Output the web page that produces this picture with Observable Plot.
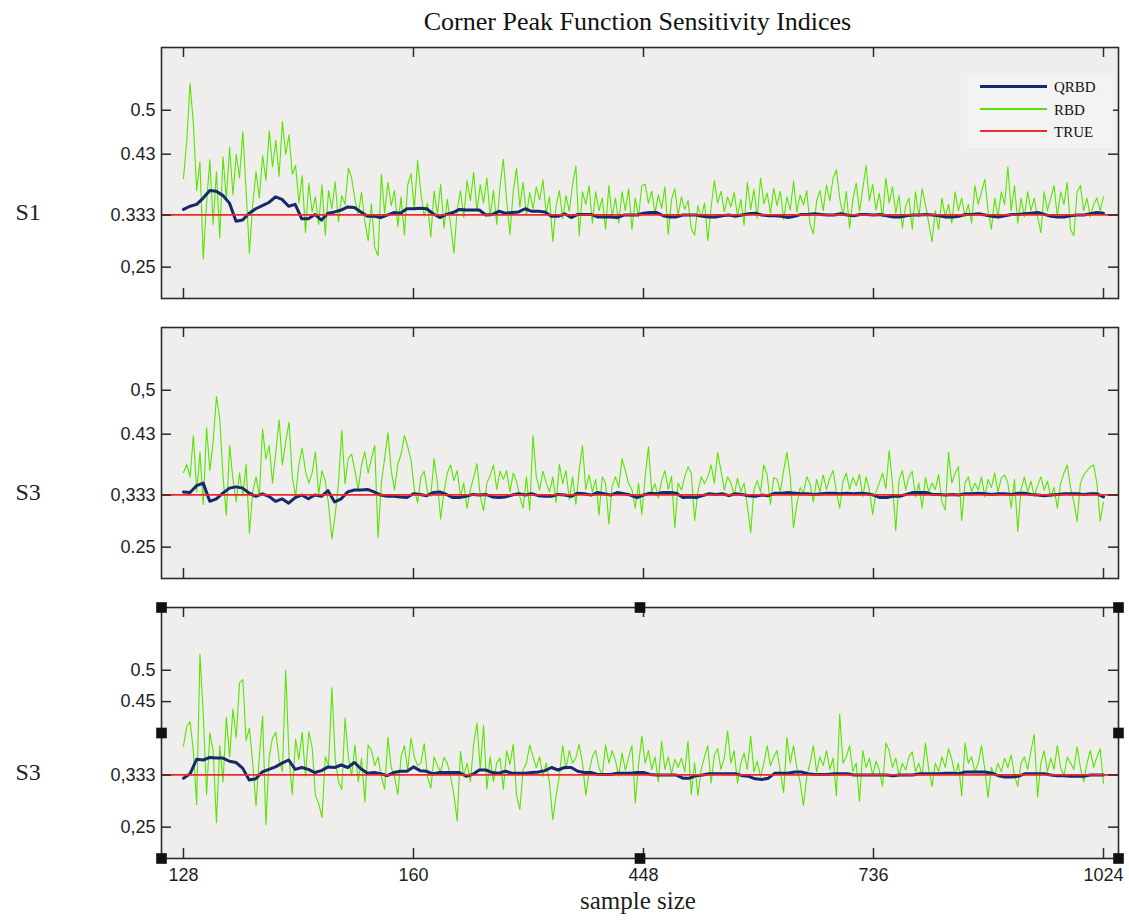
<!DOCTYPE html>
<html>
<head>
<meta charset="utf-8">
<script src="https://cdn.jsdelivr.net/npm/d3@7"></script>
<script src="https://cdn.jsdelivr.net/npm/@observablehq/plot@0.6"></script>
<style>
  html, body { margin: 0; padding: 0; background: #fff; overflow: hidden; }
  #wrap { position: relative; width: 1129px; height: 921px; }
  #title { height: 38px; padding-top: 2px; line-height: 40px; padding-left: 157px; padding-right: 11px;
           text-align: center; font-family: "Liberation Serif", serif; font-size: 26px; color: #111; }
  .panel svg { display: block; }
  #legend { position: absolute; left: 967px; top: 75px; width: 146px; height: 73px; background: #f4f3f3; }
  #legend .sw { position: absolute; left: 13px; width: 67px; }
  #legend .lb { position: absolute; left: 87px; font-family: "Liberation Serif", serif; font-size: 15px; color: #111; line-height: 16px; }
</style>
</head>
<body>
<div id="wrap">
  <div id="title"></div>
  <div class="panel" id="p1"></div>
  <div class="panel" id="p2"></div>
  <div class="panel" id="p3"></div>
  <div id="legend"></div>
</div>
<script>
// ---------- data ----------
const titleText = "Corner Peak Function Sensitivity Indices";
const xAxisLabel = "sample size";
const seriesNames = ["QRBD", "RBD", "TRUE"];
const rowLabels = ["S1", "S3", "S3"];
const trueValue = 1 / 3;
const sampleStart = 128;
const sampleEnd = 1024;
const xTickValues = [128, 352, 576, 800, 1024];
const xTickLabels = ["128", "160", "448", "736", "1024"];
const yTicks1 = [0.5, 0.43, 0.333, 0.25];
const yLabels1 = ["0.5", "0.43", "0.333", "0,25"];
const yTicks2 = [0.5, 0.43, 0.333, 0.25];
const yLabels2 = ["0,5", "0.43", "0,333", "0.25"];
const yTicks3 = [0.5, 0.45, 0.333, 0.25];
const yLabels3 = ["0.5", "0.45", "0,333", "0,25"];

// RBD estimates (green)
const rbd1 = [
0.391,0.452,0.543,0.478,0.372,0.418,0.263,0.352,0.421,0.318,0.402,0.297,0.426,0.358,0.441,0.365,0.43,0.392,0.466,0.371,
0.272,0.35,0.402,0.36,0.428,0.388,0.467,0.41,0.452,0.395,0.482,0.43,0.461,0.398,0.412,0.352,0.396,0.305,0.384,0.338,
0.362,0.318,0.381,0.301,0.372,0.343,0.386,0.322,0.364,0.35,0.408,0.392,0.357,0.334,0.369,0.322,0.292,0.351,0.281,0.268,
0.398,0.336,0.385,0.348,0.372,0.315,0.362,0.301,0.381,0.399,0.342,0.42,0.368,0.331,0.352,0.298,0.371,0.334,0.382,0.312,
0.358,0.318,0.272,0.341,0.372,0.329,0.388,0.356,0.401,0.339,0.381,0.352,0.392,0.331,0.372,0.318,0.379,0.422,0.356,0.302,
0.371,0.408,0.346,0.385,0.332,0.369,0.343,0.378,0.357,0.389,0.336,0.362,0.291,0.348,0.372,0.327,0.364,0.339,0.382,0.411,
0.30,0.37,0.35,0.38,0.32,0.37,0.34,0.36,0.31,0.38,0.33,0.36,0.32,0.37,0.34,0.375,0.31,0.36,0.33,0.38,
0.382,0.352,0.371,0.336,0.365,0.344,0.378,0.302,0.358,0.375,0.332,0.362,0.342,0.356,0.311,0.301,0.348,0.329,0.352,0.292,
0.345,0.388,0.352,0.371,0.338,0.362,0.346,0.369,0.331,0.358,0.317,0.385,0.342,0.374,0.328,0.392,0.351,0.368,0.336,0.376,
0.348,0.371,0.326,0.362,0.341,0.387,0.338,0.365,0.349,0.372,0.318,0.303,0.356,0.372,0.34,0.381,0.356,0.392,0.405,0.36,
0.332,0.371,0.312,0.358,0.384,0.339,0.375,0.412,0.356,0.382,0.341,0.368,0.329,0.392,0.352,0.378,0.336,0.364,0.312,0.348,
0.36,0.31,0.37,0.33,0.375,0.35,0.32,0.29,0.34,0.31,0.36,0.33,0.35,0.32,0.37,0.34,0.36,0.33,0.35,0.32,
0.38,0.35,0.37,0.39,0.34,0.31,0.36,0.33,0.37,0.35,0.41,0.34,0.38,0.32,0.36,0.33,0.37,0.34,0.36,0.33,
0.305,0.37,0.34,0.36,0.38,0.33,0.37,0.35,0.385,0.31,0.30,0.37,0.38,0.34,0.36,0.33,0.35,0.36,0.34,0.362
];
const rbd2 = [
0.369,0.382,0.362,0.428,0.338,0.401,0.318,0.44,0.372,0.418,0.49,0.455,0.362,0.301,0.412,0.358,0.322,0.368,0.331,0.382,
0.272,0.338,0.362,0.332,0.438,0.39,0.412,0.352,0.401,0.453,0.381,0.418,0.449,0.362,0.331,0.382,0.408,0.371,0.352,0.368,
0.402,0.334,0.372,0.356,0.318,0.263,0.301,0.352,0.436,0.351,0.392,0.398,0.371,0.342,0.381,0.402,0.368,0.392,0.412,0.265,
0.352,0.391,0.432,0.372,0.341,0.382,0.398,0.428,0.41,0.389,0.342,0.321,0.362,0.371,0.338,0.331,0.391,0.352,0.295,0.338,
0.368,0.381,0.356,0.372,0.331,0.352,0.312,0.342,0.361,0.383,0.332,0.308,0.352,0.364,0.381,0.342,0.371,0.358,0.372,0.338,
0.368,0.355,0.33,0.312,0.362,0.309,0.428,0.362,0.341,0.371,0.352,0.338,0.362,0.321,0.382,0.351,0.372,0.325,0.362,0.318,
0.372,0.412,0.342,0.365,0.338,0.358,0.301,0.362,0.352,0.287,0.348,0.362,0.345,0.391,0.372,0.351,0.342,0.312,0.352,0.302,
0.362,0.41,0.338,0.351,0.328,0.356,0.372,0.342,0.363,0.281,0.352,0.341,0.362,0.378,0.368,0.292,0.338,0.362,0.351,0.362,
0.381,0.352,0.401,0.372,0.341,0.362,0.352,0.332,0.36,0.338,0.352,0.315,0.273,0.342,0.356,0.338,0.381,0.365,0.318,0.361,
0.358,0.338,0.372,0.401,0.362,0.281,0.318,0.345,0.336,0.362,0.351,0.322,0.358,0.338,0.365,0.342,0.36,0.372,0.338,0.312,
0.355,0.368,0.342,0.361,0.348,0.366,0.33,0.362,0.341,0.302,0.338,0.352,0.368,0.343,0.404,0.352,0.276,0.358,0.372,0.341,
0.362,0.371,0.33,0.352,0.312,0.361,0.338,0.352,0.342,0.366,0.322,0.309,0.401,0.352,0.368,0.378,0.292,0.352,0.362,0.338,
0.352,0.341,0.362,0.33,0.358,0.345,0.368,0.338,0.36,0.365,0.352,0.312,0.358,0.275,0.342,0.362,0.338,0.355,0.331,0.348,
0.362,0.341,0.355,0.33,0.345,0.312,0.352,0.368,0.381,0.345,0.322,0.291,0.352,0.365,0.372,0.378,0.381,0.352,0.291,0.322
];
const rbd3 = [
0.379,0.411,0.418,0.372,0.286,0.526,0.43,0.302,0.40,0.372,0.257,0.38,0.322,0.425,0.362,0.438,0.392,0.48,0.485,0.388,
0.408,0.352,0.284,0.362,0.427,0.254,0.362,0.392,0.401,0.358,0.338,0.50,0.362,0.302,0.39,0.358,0.401,0.331,0.402,0.378,
0.301,0.288,0.265,0.362,0.348,0.472,0.36,0.322,0.31,0.424,0.362,0.332,0.381,0.322,0.36,0.29,0.381,0.372,0.348,0.362,
0.331,0.31,0.393,0.345,0.33,0.302,0.362,0.38,0.34,0.392,0.362,0.348,0.352,0.383,0.33,0.312,0.362,0.348,0.338,0.361,
0.352,0.331,0.302,0.26,0.371,0.332,0.352,0.322,0.382,0.416,0.342,0.412,0.31,0.362,0.322,0.352,0.36,0.31,0.372,0.35,
0.382,0.301,0.278,0.342,0.352,0.381,0.362,0.345,0.362,0.331,0.352,0.32,0.262,0.30,0.332,0.38,0.342,0.372,0.352,0.361,
0.382,0.352,0.301,0.338,0.362,0.372,0.345,0.332,0.381,0.352,0.372,0.356,0.331,0.368,0.341,0.361,0.38,0.288,0.35,0.395,
0.352,0.372,0.342,0.362,0.322,0.387,0.342,0.362,0.335,0.358,0.345,0.36,0.338,0.387,0.302,0.352,0.30,0.342,0.362,0.38,
0.32,0.365,0.375,0.342,0.36,0.403,0.352,0.372,0.32,0.352,0.368,0.342,0.395,0.338,0.355,0.33,0.352,0.38,0.348,0.362,
0.372,0.338,0.305,0.393,0.352,0.38,0.345,0.322,0.284,0.33,0.352,0.38,0.338,0.362,0.348,0.372,0.342,0.36,0.30,0.43,
0.352,0.362,0.38,0.338,0.352,0.291,0.372,0.345,0.36,0.332,0.355,0.341,0.315,0.384,0.372,0.345,0.36,0.332,0.352,0.341,
0.362,0.37,0.338,0.352,0.332,0.384,0.342,0.315,0.352,0.338,0.362,0.345,0.375,0.358,0.332,0.352,0.30,0.384,0.352,0.362,
0.338,0.352,0.38,0.342,0.297,0.345,0.332,0.352,0.338,0.36,0.345,0.365,0.332,0.315,0.352,0.362,0.342,0.372,0.398,0.298,
0.352,0.372,0.338,0.36,0.342,0.38,0.345,0.331,0.362,0.352,0.342,0.378,0.345,0.322,0.352,0.372,0.345,0.362,0.375,0.32
];

// QRBD estimates (navy)
const qrbd1 = [
0.342,0.347,0.35,0.36,0.372,0.371,0.364,0.352,0.323,0.325,0.336,0.343,0.348,0.353,0.362,0.358,0.347,0.35,0.327,0.327,
0.334,0.325,0.336,0.338,0.341,0.346,0.345,0.338,0.331,0.331,0.329,0.333,0.337,0.336,0.343,0.343,0.344,0.343,0.335,0.329,
0.334,0.337,0.342,0.341,0.341,0.341,0.333,0.334,0.339,0.336,0.337,0.338,0.343,0.339,0.339,0.338,0.331,0.331,0.335,0.329,
0.334,0.334,0.334,0.33,0.33,0.33,0.329,0.333,0.333,0.333,0.336,0.337,0.337,0.332,0.33,0.33,0.333,0.333,0.333,0.331,
0.33,0.33,0.332,0.333,0.331,0.333,0.335,0.336,0.333,0.332,0.332,0.331,0.329,0.331,0.334,0.334,0.335,0.334,0.333,0.333,
0.335,0.333,0.332,0.334,0.334,0.333,0.334,0.332,0.33,0.33,0.332,0.333,0.333,0.334,0.333,0.332,0.33,0.33,0.331,0.334,
0.334,0.335,0.333,0.331,0.33,0.332,0.334,0.334,0.335,0.336,0.337,0.334,0.331,0.33,0.33,0.332,0.333,0.333,0.335,0.337,
0.336
];
const qrbd2 = [
0.338,0.337,0.348,0.352,0.323,0.327,0.336,0.344,0.346,0.344,0.336,0.331,0.335,0.331,0.323,0.327,0.32,0.329,0.333,0.327,
0.333,0.331,0.34,0.322,0.327,0.338,0.341,0.341,0.342,0.338,0.333,0.331,0.331,0.33,0.329,0.335,0.334,0.332,0.337,0.338,
0.334,0.329,0.329,0.331,0.334,0.333,0.334,0.33,0.329,0.33,0.333,0.335,0.333,0.335,0.332,0.331,0.331,0.334,0.333,0.331,
0.336,0.335,0.333,0.337,0.335,0.333,0.337,0.335,0.333,0.329,0.333,0.336,0.335,0.337,0.337,0.336,0.329,0.33,0.329,0.332,
0.335,0.334,0.335,0.332,0.335,0.334,0.332,0.331,0.333,0.332,0.336,0.336,0.337,0.336,0.335,0.335,0.334,0.335,0.336,0.336,
0.335,0.336,0.335,0.336,0.335,0.333,0.329,0.329,0.331,0.331,0.334,0.337,0.337,0.337,0.334,0.334,0.333,0.334,0.333,0.335,
0.335,0.336,0.335,0.334,0.335,0.335,0.334,0.336,0.336,0.334,0.333,0.332,0.333,0.334,0.335,0.335,0.335,0.334,0.335,0.335,
0.33
];
const qrbd3 = [
0.328,0.335,0.358,0.357,0.361,0.36,0.36,0.355,0.353,0.344,0.325,0.327,0.338,0.342,0.346,0.352,0.357,0.342,0.345,0.342,
0.337,0.34,0.346,0.345,0.349,0.345,0.353,0.343,0.336,0.337,0.335,0.332,0.337,0.339,0.339,0.346,0.34,0.339,0.335,0.337,
0.337,0.337,0.337,0.331,0.334,0.341,0.341,0.337,0.336,0.339,0.336,0.336,0.336,0.337,0.338,0.34,0.345,0.341,0.345,0.345,
0.339,0.337,0.337,0.334,0.334,0.334,0.336,0.336,0.336,0.337,0.337,0.334,0.333,0.333,0.333,0.333,0.328,0.328,0.332,0.333,
0.335,0.335,0.335,0.335,0.335,0.332,0.331,0.327,0.326,0.328,0.336,0.336,0.336,0.338,0.338,0.335,0.334,0.334,0.334,0.335,
0.335,0.335,0.333,0.333,0.333,0.333,0.333,0.333,0.332,0.333,0.333,0.333,0.335,0.335,0.335,0.335,0.336,0.336,0.335,0.338,
0.338,0.338,0.338,0.336,0.332,0.33,0.33,0.331,0.335,0.335,0.335,0.335,0.333,0.332,0.332,0.331,0.331,0.331,0.333,0.333,
0.333
];

// ---------- styling ----------
const C = { bg: "#f0eded", navy: "#17296b", green: "#55e600", red: "#ee2a2a", axis: "#2b2b2b", text: "#1e1e1e" };
const W = 1129, ML = 161, MR = 11, MT = 7;
const xDomain = [106.6, 1038.6];
const yDomain = [0.2, 0.6];

function toSeries(values) {
  const n = values.length;
  return values.map((v, i) => ({ n: sampleStart + i * (sampleEnd - sampleStart) / (n - 1), v }));
}

function panel({ rbd, qrbd, yTicks, yLabels, rowLabel, height, marginBottom, bottomAxis, handles }) {
  const frameW = W - ML - MR;
  const frameH = height - MT - marginBottom;
  const fmtY = new Map(yTicks.map((t, i) => [t, yLabels[i]]));
  const fmtX = new Map(xTickValues.map((t, i) => [t, xTickLabels[i]]));
  const marks = [
    Plot.frame({ fill: C.bg, stroke: null }),
    Plot.line(toSeries(rbd), { x: "n", y: "v", stroke: C.green, strokeWidth: 1.1 }),
    Plot.line(toSeries(qrbd), { x: "n", y: "v", stroke: C.navy, strokeWidth: 3, curve: "linear" }),
    Plot.ruleY([trueValue], { stroke: C.red, strokeWidth: 1.6 }),
    Plot.tickY(yTicks, { y: d => d, insetRight: frameW - 10, stroke: C.axis, strokeWidth: 1.5 }),
    Plot.tickY(yTicks, { y: d => d, insetLeft: frameW - 10, stroke: C.axis, strokeWidth: 1.5 }),
    Plot.tickX(xTickValues, { x: d => d, insetTop: frameH - 10, stroke: C.axis, strokeWidth: 1.5 }),
    Plot.tickX(xTickValues, { x: d => d, insetBottom: frameH - 10, stroke: C.axis, strokeWidth: 1.5 }),
    Plot.frame({ stroke: C.axis, strokeWidth: 1.6 }),
    Plot.axisY({ ticks: yTicks, tickSize: 0, tickPadding: 6, tickFormat: d => fmtY.get(d), label: null,
                 fontSize: 18, fill: C.text }),
    Plot.text([rowLabel], { text: d => d, y: [trueValue], frameAnchor: "left", dx: -146, dy: -3, textAnchor: "start",
                 fontFamily: "Liberation Serif", fontSize: 24, fill: C.text })
  ];
  if (bottomAxis) {
    marks.push(Plot.axisX({ ticks: xTickValues, tickSize: 0, tickPadding: 10, tickFormat: d => fmtX.get(d),
                            label: null, fontSize: 18, fill: C.text }));
    marks.push(Plot.text([xAxisLabel], { text: d => d, frameAnchor: "bottom", dy: 50, dx: -2,
                            fontFamily: "Liberation Serif", fontSize: 25, fill: C.text }));
  }
  if (handles) {
    const pts = [[0,0],[0.5,0],[1,0],[0,0.5],[1,0.5],[0,1],[0.5,1],[1,1]];
    marks.push(Plot.dot(pts, {
      x: d => xDomain[0] + d[0] * (xDomain[1] - xDomain[0]),
      y: d => yDomain[1] - d[1] * (yDomain[1] - yDomain[0]),
      symbol: "square", r: 6, fill: "#111", stroke: null
    }));
  }
  return Plot.plot({
    width: W, height, marginLeft: ML, marginRight: MR, marginTop: MT, marginBottom,
    x: { domain: xDomain, axis: null, label: null },
    y: { domain: yDomain, axis: null, label: null },
    style: { fontFamily: "Liberation Sans", fontSize: "18px", background: "transparent", overflow: "visible" },
    marks
  });
}

document.getElementById("title").textContent = titleText;
document.getElementById("p1").append(panel({ rbd: rbd1, qrbd: qrbd1, yTicks: yTicks1, yLabels: yLabels1,
  rowLabel: rowLabels[0], height: 280, marginBottom: 22 }));
document.getElementById("p2").append(panel({ rbd: rbd2, qrbd: qrbd2, yTicks: yTicks2, yLabels: yLabels2,
  rowLabel: rowLabels[1], height: 280, marginBottom: 22 }));
document.getElementById("p3").append(panel({ rbd: rbd3, qrbd: qrbd3, yTicks: yTicks3, yLabels: yLabels3,
  rowLabel: rowLabels[2], height: 321, marginBottom: 63, bottomAxis: true, handles: true }));

// legend (inside top panel)
const legendColors = [C.navy, C.green, C.red];
const legendWidths = [3, 2, 2];
const legendTops = [11, 34, 56];
const lg = document.getElementById("legend");
seriesNames.forEach((name, i) => {
  const sw = document.createElement("div");
  sw.className = "sw";
  sw.style.top = (legendTops[i] - Math.floor(legendWidths[i] / 2)) + "px";
  sw.style.height = legendWidths[i] + "px";
  sw.style.background = legendColors[i];
  lg.append(sw);
  const lb = document.createElement("div");
  lb.className = "lb";
  lb.style.top = (legendTops[i] - 7) + "px";
  lb.textContent = name;
  lg.append(lb);
});
</script>
</body>
</html>
